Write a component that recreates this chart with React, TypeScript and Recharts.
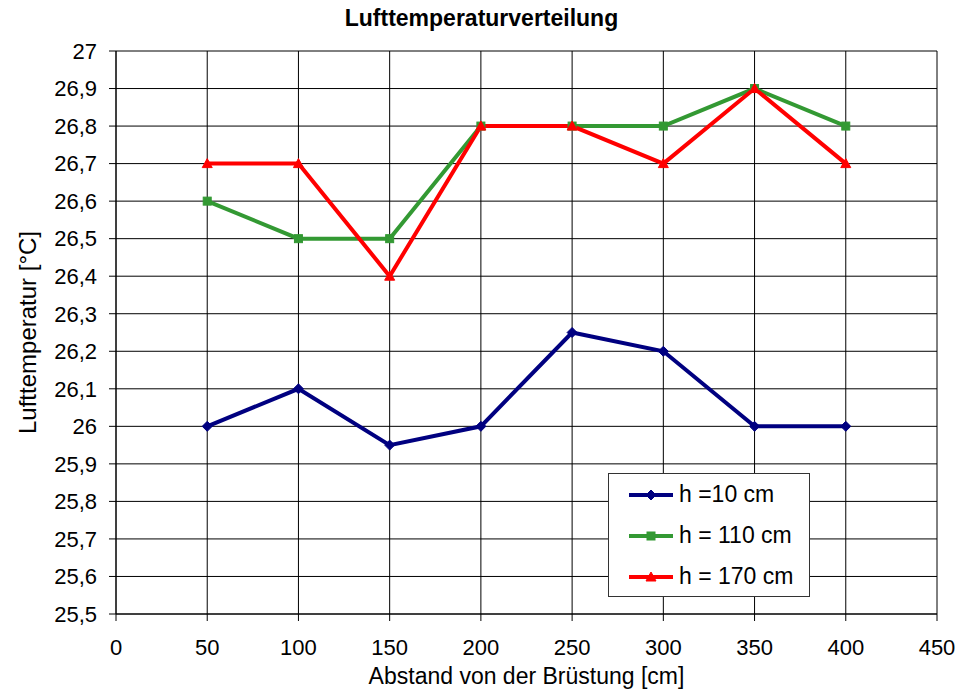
import React from 'react';
import { LineChart, Line, XAxis, YAxis, CartesianGrid, Legend } from 'recharts';

const distances = [50, 100, 150, 200, 250, 300, 350, 400];
const h10 = [26.0, 26.1, 25.95, 26.0, 26.25, 26.2, 26.0, 26.0];
const h110 = [26.6, 26.5, 26.5, 26.8, 26.8, 26.8, 26.9, 26.8];
const h170 = [26.7, 26.7, 26.4, 26.8, 26.8, 26.7, 26.9, 26.7];
const seriesNames = ['h =10 cm', 'h = 110 cm', 'h = 170 cm'];
const xTicks = [0, 50, 100, 150, 200, 250, 300, 350, 400, 450];
const yTicks = [25.5, 25.6, 25.7, 25.8, 25.9, 26, 26.1, 26.2, 26.3, 26.4, 26.5, 26.6, 26.7, 26.8, 26.9, 27];

const data = distances.map((d, i) => ({ x: d, h10: h10[i], h110: h110[i], h170: h170[i] }));

const FONT = '"Liberation Sans", Arial, sans-serif';
const BLUE = '#000080';
const GREEN = '#339933';
const RED = '#ff0000';

const fmt = (v: number) => String(Number(v.toFixed(2))).replace('.', ',');

const Diamond = (props: any) => {
  const { cx, cy } = props;
  if (cx == null || cy == null) return null;
  return <path d={`M${cx},${cy - 5}L${cx + 5},${cy}L${cx},${cy + 5}L${cx - 5},${cy}Z`} fill={BLUE} stroke={BLUE} />;
};
const Square = (props: any) => {
  const { cx, cy } = props;
  if (cx == null || cy == null) return null;
  return <rect x={cx - 4} y={cy - 4} width={8} height={8} fill={GREEN} stroke={GREEN} />;
};
const Triangle = (props: any) => {
  const { cx, cy } = props;
  if (cx == null || cy == null) return null;
  return <path d={`M${cx},${cy - 5}L${cx + 5},${cy + 4}L${cx - 5},${cy + 4}Z`} fill={RED} stroke={RED} />;
};

const markers = [Diamond, Square, Triangle];
const colors = [BLUE, GREEN, RED];

const LegendBox = () => (
  <div style={{ border: '1.5px solid #333', background: '#fff', width: 202, height: 124, boxSizing: 'border-box', paddingTop: 0 }}>
    {seriesNames.map((name, i) => {
      const M = markers[i];
      return (
        <div key={name} style={{ display: 'flex', alignItems: 'center', height: 41, paddingLeft: 18 }}>
          <svg width={48} height={20}>
            <line x1={2} y1={10} x2={46} y2={10} stroke={colors[i]} strokeWidth={4} />
            <M cx={24} cy={10} />
          </svg>
          <span style={{ fontFamily: FONT, fontSize: 23, color: '#000', marginLeft: 4 }}>{name}</span>
        </div>
      );
    })}
  </div>
);

export default function App() {
  return (
    <div style={{ position: 'absolute', left: 0, top: 0, width: 963, height: 689, background: '#fff' }}>
      <div style={{ position: 'absolute', left: 0, top: 5, width: 963, textAlign: 'center', fontFamily: FONT, fontWeight: 'bold', fontSize: 23, color: '#000' }}>
        Lufttemperaturverteilung
      </div>
      <LineChart width={963} height={689} data={data} margin={{ top: 51, right: 26, bottom: 0, left: 0 }}>
        <CartesianGrid stroke="#000" strokeWidth={1} horizontalValues={yTicks} verticalValues={xTicks} />
        <XAxis
          dataKey="x"
          type="number"
          domain={[0, 450]}
          ticks={xTicks}
          height={75}
          tickSize={7}
          tickMargin={18}
          stroke="#000"
          tick={{ fill: '#000', fontSize: 22, fontFamily: FONT }}
          label={{ value: 'Abstand von der Brüstung [cm]', position: 'insideBottom', offset: 5, fill: '#000', fontSize: 23, fontFamily: FONT }}
        />
        <YAxis
          type="number"
          domain={[25.5, 27]}
          ticks={yTicks}
          width={116}
          tickSize={7}
          tickMargin={12}
          stroke="#000"
          tickFormatter={fmt}
          tick={{ fill: '#000', fontSize: 22, fontFamily: FONT }}
          label={{ value: 'Lufttemperatur [°C]', angle: -90, position: 'insideLeft', offset: 27, fill: '#000', fontSize: 24, fontFamily: FONT, style: { textAnchor: 'middle' } }}
        />
        <Legend
          layout="vertical"
          align="center"
          verticalAlign="middle"
          content={() => <LegendBox />}
          wrapperStyle={{ left: 608, top: 473, width: 202, height: 124 }}
        />
        <Line dataKey="h10" name={seriesNames[0]} stroke={BLUE} strokeWidth={4} dot={<Diamond />} isAnimationActive={false} />
        <Line dataKey="h110" name={seriesNames[1]} stroke={GREEN} strokeWidth={4} dot={<Square />} isAnimationActive={false} />
        <Line dataKey="h170" name={seriesNames[2]} stroke={RED} strokeWidth={4} dot={<Triangle />} isAnimationActive={false} />
      </LineChart>
    </div>
  );
}
